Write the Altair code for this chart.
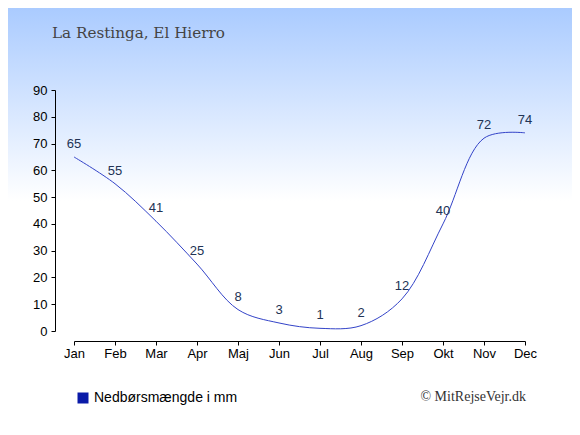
import altair as alt
import pandas as pd

months = ["Jan", "Feb", "Mar", "Apr", "Maj", "Jun", "Jul", "Aug", "Sep", "Okt", "Nov", "Dec"]
precip = [65, 55, 41, 25, 8, 3, 1, 2, 12, 40, 72, 74]
series_name = "Nedbørsmængde i mm"
title_text = "La Restinga, El Hierro"
credit_text = "© MitRejseVejr.dk"

W, H = 451, 241
PAD = {"left": 66, "top": 82, "right": 47, "bottom": 96}

df = pd.DataFrame({"m": list(range(12)), "month": months, "v": precip, "series": series_name})

label_expr = "[" + ",".join(f"'{m}'" for m in months) + "][datum.value]"

x_enc = alt.X("m:Q", scale=alt.Scale(domain=[0, 11], nice=False, zero=False),
              axis=alt.Axis(values=list(range(12)), labelExpr=label_expr, title=None,
                            offset=10, domainColor="black", tickColor="black", tickSize=4,
                            labelFont="Liberation Sans", labelFontSize=13, labelColor="black",
                            labelPadding=2, grid=False, zindex=1, labelFlush=False,
                            labelOverlap=False, labelBound=False))
y_enc = alt.Y("v:Q", scale=alt.Scale(domain=[0, 90], nice=False),
              axis=alt.Axis(values=list(range(0, 91, 10)), title=None, offset=19,
                            domainColor="black", tickColor="black", tickSize=4,
                            labelFont="Liberation Sans", labelFontSize=13, labelColor="black",
                            labelPadding=4, grid=False, zindex=1, labelFlush=False,
                            labelOverlap=False, labelBound=False))

bg = alt.Chart(pd.DataFrame({"a": [0]})).mark_rect(
    color=alt.Gradient(gradient="linear", x1=0, x2=0, y1=0, y2=1,
                       stops=[alt.GradientStop(offset=0, color="#aacbff"),
                              alt.GradientStop(offset=0.46, color="#ffffff"),
                              alt.GradientStop(offset=1, color="#ffffff")])
).encode(x=alt.value(-PAD["left"]), x2=alt.value(W + PAD["right"]),
         y=alt.value(-PAD["top"]), y2=alt.value(H + PAD["bottom"]))

line = alt.Chart(df).mark_line(interpolate="catmull-rom", strokeWidth=1).encode(
    x=x_enc, y=y_enc,
    color=alt.Color("series:N", scale=alt.Scale(range=["#3343c8"]),
                    legend=alt.Legend(title=None, orient="none", legendX=2, legendY=301,
                                      symbolType="square", symbolSize=121,
                                      symbolFillColor="#0a1aa8", symbolStrokeColor="#0a1aa8",
                                      symbolStrokeWidth=0, padding=0,
                                      labelFont="Liberation Sans", labelFontSize=14,
                                      labelColor="black", labelLimit=300))
)

labels = alt.Chart(df).mark_text(dy=-13, font="Liberation Sans", fontSize=13,
                                 color="#223355", baseline="middle").encode(
    x=x_enc, y=y_enc, text="v:Q")

credit = alt.Chart(pd.DataFrame({"t": [credit_text]})).mark_text(
    font="Liberation Serif", fontSize=14, color="#333333", align="right", baseline="middle"
).encode(x=alt.value(452), y=alt.value(307), text="t:N")

title = alt.Chart(pd.DataFrame({"t": [title_text]})).mark_text(
    font="DejaVu Serif", fontSize=15.2, color="#444444", align="left", baseline="alphabetic"
).encode(x=alt.value(-22), y=alt.value(-52), text="t:N")

chart = alt.layer(bg, line, labels, credit, title).properties(
    width=W, height=H, padding=PAD, autosize=alt.AutoSizeParams(type="none"),
).configure_view(stroke=None).configure(background="white")

chart.save("out.html", embed_options={"renderer": "svg", "actions": False})
